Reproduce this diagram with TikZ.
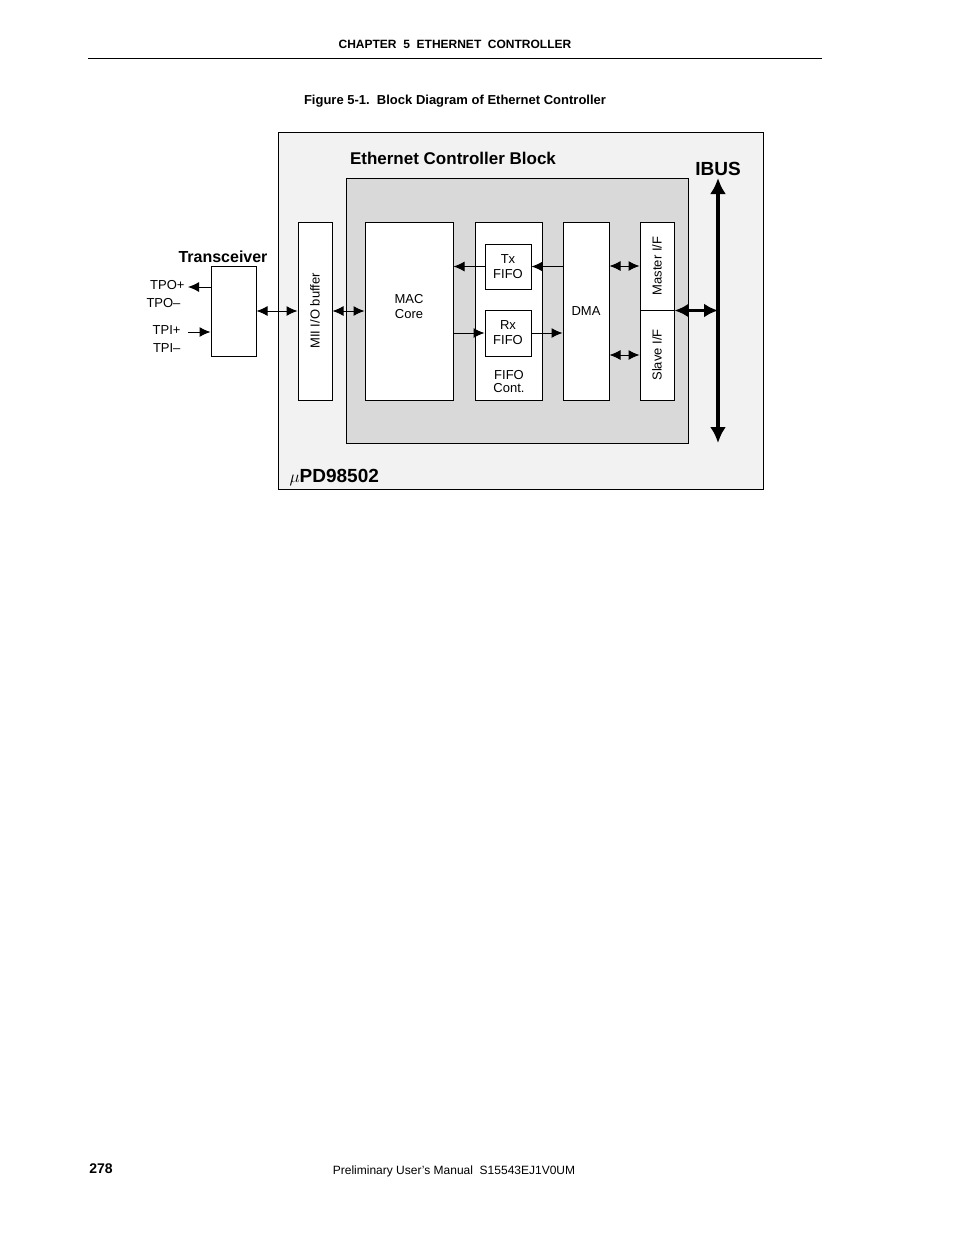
\documentclass[tikz,border=0pt]{standalone}
\usepackage{fontspec}
\setmainfont{Liberation Sans}
\usetikzlibrary{arrows.meta}
\usetikzlibrary{positioning}
\tikzset {
  % plain block
  blk/.style = {
    draw = black,
    fill = white,
    line width = 1pt,
    inner sep = 0,
    font = \fontsize{13}{15}\selectfont,
    align = center
  },
  % vertical label
  vlab/.style = {
    rotate = 90,
    font = \fontsize{13}{15}\selectfont
  },
  sig/.style = {
    draw = black,
    line width = 1pt,
    -{Latex[length=11pt,width=10pt]}
  },
  bsig/.style = {
    sig,
    {Latex[length=11pt,width=10pt]}-{Latex[length=11pt,width=10pt]}
  },
  lab/.style = {
    font = \fontsize{13}{15}\selectfont
  }
}
\begin{document}
\begin{tikzpicture}[x=1pt, y=-1pt]
    \useasboundingbox (0,0) rectangle (954,1235);

    % page header and footer
    \node[font=\bfseries\fontsize{12}{14}\selectfont] (head) at (455,44) {CHAPTER\ \ 5\ \ ETHERNET\ \ CONTROLLER};
    \draw[line width=0.8pt] (88,58) -- (822,58);
    \node[font=\bfseries\fontsize{13}{15}\selectfont] (cap) at (455,101) {Figure 5-1.\ \ Block Diagram of Ethernet Controller};
    \node[font=\bfseries\fontsize{14}{16}\selectfont] (page) at (101,1169) {278};
    \node[font=\fontsize{12}{14}\selectfont] (foot) at (454,1171) {Preliminary User's Manual\ \ S15543EJ1V0UM};

    % chip and controller block
    \draw[line width=1pt, fill=black!5] (278,132) rectangle (763,489);
    \draw[line width=1pt, fill=black!15] (346,178) rectangle (688,443);
    \node[font=\bfseries\fontsize{17}{20}\selectfont] (ecb) at (453,158) {Ethernet Controller Block};
    \node[font=\bfseries\fontsize{19}{22}\selectfont] (ibus) at (718,169) {IBUS};
    \node[font=\bfseries\fontsize{19}{22}\selectfont, anchor=west] (chip) at (286,478) {$\mu$PD98502};

    % blocks
    \node[blk, minimum width=45pt, minimum height=90pt] (trx) at (233.5,311) {};
    \node[font=\bfseries\fontsize{16}{19}\selectfont] (trx lab) at (223,257) {Transceiver};
    \node[blk, minimum width=34pt, minimum height=178pt] (mii) at (315,311) {};
    \node[vlab] at (mii) {MII I/O buffer};
    \node[blk, minimum width=88pt, minimum height=178pt] (mac) at (409,311) {};
    \node[lab, align=center] at (409,307) {MAC\\Core};
    \node[blk, minimum width=67pt, minimum height=178pt] (fifo) at (508.5,311) {};
    \node[lab, align=center, font=\fontsize{13}{13}\selectfont] at (509,382) {FIFO\\Cont.};
    \node[blk, minimum width=46pt, minimum height=45pt] (tx) at (508,266.5) {Tx\\FIFO};
    \node[blk, minimum width=46pt, minimum height=46pt] (rx) at (508,333) {Rx\\FIFO};
    \node[blk, minimum width=46pt, minimum height=178pt] (dma) at (586,311) {DMA};
    \node[blk, minimum width=34pt, minimum height=88pt] (mst) at (657,266) {};
    \node[vlab] at (mst) {Master I/F};
    \node[blk, minimum width=34pt, minimum height=90pt] (slv) at (657,355) {};
    \node[vlab] at (slv) {Slave I/F};

    % line pins
    \node[lab, anchor=east] (tpop) at (188,285) {TPO+};
    \node[lab, anchor=east] (tpom) at (184,303) {TPO\textendash};
    \node[lab, anchor=east] (tpip) at (184,330) {TPI+};
    \node[lab, anchor=east] (tpim) at (184,348) {TPI\textendash};
    \coordinate (tpo end) at (188,287);
    \coordinate (tpi end) at (188,332);

    % connections
    \draw[sig] (trx.west |- tpo end) -- (tpo end);
    \draw[sig] (tpi end) -- (trx.west |- tpi end);
    \draw[bsig] (trx.east) -- (mii.west);
    \draw[bsig] (mii.east) -- (mac.west |- mii.east);
    \draw[sig] (dma.west |- tx.east) -- (tx.east);
    \draw[sig] (tx.west) -- (mac.east |- tx.west);
    \draw[sig] (mac.east |- rx.west) -- (rx.west);
    \draw[sig] (rx.east) -- (dma.west |- rx.east);
    \draw[bsig] (dma.east |- mst.west) -- (mst.west);
    \draw[bsig] (dma.east |- slv.west) -- (slv.west);

    % internal bus
    \coordinate (bus top) at (718,178);
    \coordinate (bus bot) at (718,443);
    \draw[line width=3.5pt, {Latex[length=16pt,width=16pt]}-{Latex[length=16pt,width=16pt]}] (bus top) -- (bus bot);
    \draw[line width=3.5pt, {Latex[length=14pt,width=14pt]}-{Latex[length=14pt,width=14pt]}] (mst.south east) -- (bus top |- mst.south east);
\end{tikzpicture}
\end{document}
